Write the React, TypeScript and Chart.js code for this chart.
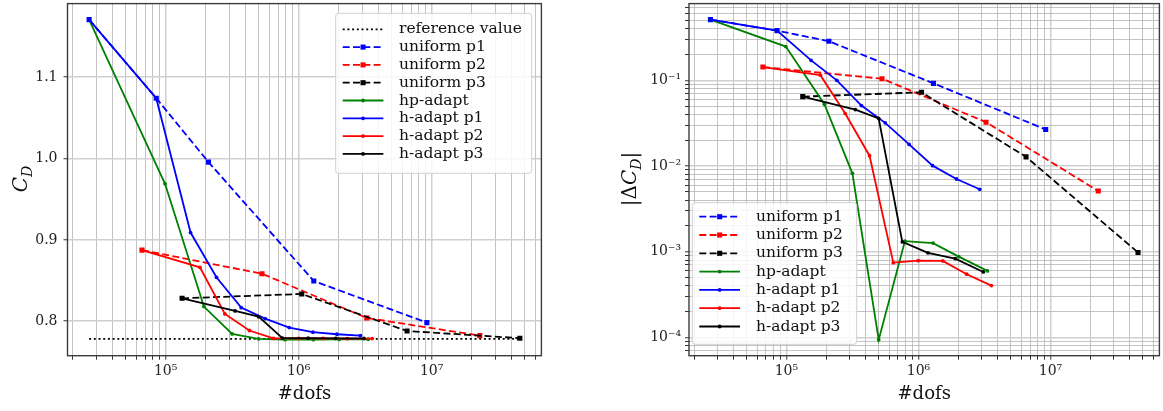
import React, { useEffect, useRef } from "react";
import { Chart, registerables } from "chart.js";

Chart.register(...registerables);

// ---- data -------------------------------------------------------------
const REF_CD = 0.7783;
const refDofs = [2.66e4, 4.6e7];
const refCd = [REF_CD, REF_CD];

const uniformP1Dofs = [2.66e4, 8.5e4, 2.1e5, 1.3e6, 9.2e6];
const uniformP1Cd = [1.1708, 1.0742, 0.9956, 0.8494, 0.7983];
const uniformP1Err = [0.512, 0.381, 0.286, 0.0923, 0.0267];

const uniformP2Dofs = [6.64e4, 5.3e5, 3.25e6, 2.3e7];
const uniformP2Cd = [0.8874, 0.8584, 0.804, 0.7823];
const uniformP2Err = [0.143, 0.1046, 0.0325, 0.00511];

const uniformP3Dofs = [1.33e5, 1.055e6, 6.53e6, 4.6e7];
const uniformP3Cd = [0.8282, 0.8335, 0.788, 0.7791];
const uniformP3Err = [0.0646, 0.0725, 0.0128, 0.00098];

const hpAdaptDofs = [2.66e4, 9.9e4, 1.94e5, 3.16e5, 5.0e5, 7.9e5, 1.29e6, 2.02e6, 3.33e6];
const hpAdaptCd = [1.1708, 0.969, 0.818, 0.7844, 0.7784, 0.7773, 0.7773, 0.7776, 0.7778];
const hpAdaptErr = [0.512, 0.248, 0.0526, 0.00822, 9.4e-5, 0.00133, 0.00126, 0.000875, 0.000597];

const hAdaptP1Dofs = [2.66e4, 8.5e4, 1.54e5, 2.41e5, 3.7e5, 5.6e5, 8.5e5, 1.28e6, 1.94e6, 2.91e6];
const hAdaptP1Cd = [1.1708, 1.0742, 0.909, 0.854, 0.8167, 0.8032, 0.7922, 0.7865, 0.784, 0.7823];
const hAdaptP1Err = [0.512, 0.381, 0.171, 0.1, 0.0508, 0.0319, 0.01786, 0.0101, 0.00706, 0.00535];

const hAdaptP2Dofs = [6.64e4, 1.81e5, 2.79e5, 4.26e5, 6.45e5, 9.97e5, 1.53e6, 2.32e6, 3.57e6];
const hAdaptP2Cd = [0.8874, 0.8663, 0.809, 0.7886, 0.7789, 0.7789, 0.7789, 0.7787, 0.7786];
const hAdaptP2Err = [0.143, 0.115, 0.041, 0.0132, 0.000745, 0.000786, 0.00078, 0.000546, 0.000402];

const hAdaptP3Dofs = [1.33e5, 3.33e5, 5.0e5, 7.55e5, 1.18e6, 1.9e6, 3.1e6];
const hAdaptP3Cd = [0.8282, 0.8126, 0.8056, 0.7793, 0.7791, 0.779, 0.7788];
const hAdaptP3Err = [0.0646, 0.0456, 0.0359, 0.0013, 0.00097, 0.00083, 0.00058];

const cdTickValues = [0.8, 0.9, 1.0, 1.1];

// axis limits
const X_MIN = 1.83e4;
const X_MAX = 6.68e7;
const CD_MIN = 0.7576;
const CD_MAX = 1.1905;
const ERR_MIN = 6.11e-5;
const ERR_MAX = 0.787;

// ---- styling ----------------------------------------------------------
const FONT = "DejaVu Serif";
const BLUE = "#0000ff";
const RED = "#ff0000";
const BLACK = "#000000";
const GREEN = "#008000";
const DASH = [7, 3.3];

type Style = { color: string; dash: number[]; marker: string; r: number };

const series: { label: string; dofs: number[]; cd: number[]; err: number[]; st: Style }[] = [
  { label: "uniform p1", dofs: uniformP1Dofs, cd: uniformP1Cd, err: uniformP1Err, st: { color: BLUE, dash: DASH, marker: "rect", r: 3.6 } },
  { label: "uniform p2", dofs: uniformP2Dofs, cd: uniformP2Cd, err: uniformP2Err, st: { color: RED, dash: DASH, marker: "rect", r: 3.6 } },
  { label: "uniform p3", dofs: uniformP3Dofs, cd: uniformP3Cd, err: uniformP3Err, st: { color: BLACK, dash: DASH, marker: "rect", r: 3.6 } },
  { label: "hp-adapt", dofs: hpAdaptDofs, cd: hpAdaptCd, err: hpAdaptErr, st: { color: GREEN, dash: [], marker: "circle", r: 1.9 } },
  { label: "h-adapt p1", dofs: hAdaptP1Dofs, cd: hAdaptP1Cd, err: hAdaptP1Err, st: { color: BLUE, dash: [], marker: "circle", r: 1.9 } },
  { label: "h-adapt p2", dofs: hAdaptP2Dofs, cd: hAdaptP2Cd, err: hAdaptP2Err, st: { color: RED, dash: [], marker: "circle", r: 1.9 } },
  { label: "h-adapt p3", dofs: hAdaptP3Dofs, cd: hAdaptP3Cd, err: hAdaptP3Err, st: { color: BLACK, dash: [], marker: "circle", r: 1.9 } },
];

const SUP: Record<string, string> = {
  "0": "⁰", "1": "¹", "2": "²", "3": "³", "4": "⁴",
  "5": "⁵", "6": "⁶", "7": "⁷", "8": "⁸", "9": "⁹", "-": "⁻",
};

const isPow10 = (v: number) => {
  const l = Math.log10(v);
  return Math.abs(l - Math.round(l)) < 1e-6;
};

const pow10Label = (v: number) =>
  isPow10(v)
    ? "10" + String(Math.round(Math.log10(v))).split("").map((c) => SUP[c]).join("")
    : "";

// decade ticks 1..9 x 10^e that fall within [lo, hi]
function logTicks(lo: number, hi: number) {
  const out: number[] = [];
  for (let e = Math.floor(Math.log10(lo)); e <= Math.ceil(Math.log10(hi)); e++) {
    for (let m = 1; m < 10; m++) {
      const v = m * Math.pow(10, e);
      if (v >= lo && v <= hi) out.push(v);
    }
  }
  return out;
}

const X_TICKS = logTicks(X_MIN, X_MAX);
const ERR_TICKS = logTicks(ERR_MIN, ERR_MAX);

const gridColor = (ctx: any) =>
  ctx.tick && isPow10(ctx.tick.value) ? "#cfcfcf" : "#b4b4b4";
const gridWidth = (ctx: any) => (ctx.tick && isPow10(ctx.tick.value) ? 1.5 : 0.8);

function makeDataset(label: string, xs: number[], ys: number[], st: Style, idx: number) {
  return {
    label,
    data: xs.map((x, i) => ({ x, y: ys[i] })),
    showLine: true,
    borderColor: st.color,
    backgroundColor: st.color,
    borderWidth: 1.8,
    borderDash: st.dash,
    pointStyle: st.marker,
    pointRadius: st.r,
    pointHoverRadius: st.r,
    pointBackgroundColor: st.color,
    pointBorderWidth: 0,
    fill: false,
    order: 100 - idx,
  };
}

// ---- plugins ----------------------------------------------------------
const framePlugin = {
  id: "frame",
  afterDatasetsDraw(chart: any) {
    const { ctx, chartArea } = chart;
    const { left, right, top, bottom } = chartArea;
    ctx.save();
    ctx.strokeStyle = "#3c3c3c";
    ctx.lineWidth = 1.4;
    ctx.strokeRect(left, top, right - left, bottom - top);
    ctx.restore();
  },
};

const insetLegendPlugin = {
  id: "insetLegend",
  afterDraw(chart: any, _args: any, opts: any) {
    if (!opts || !opts.box) return;
    const { ctx } = chart;
    const { box, rowY, rowGap, lineX, lineLen, textX, font } = opts;
    ctx.save();
    const r = 3;
    ctx.beginPath();
    ctx.moveTo(box.x + r, box.y);
    ctx.lineTo(box.x + box.w - r, box.y);
    ctx.arcTo(box.x + box.w, box.y, box.x + box.w, box.y + r, r);
    ctx.lineTo(box.x + box.w, box.y + box.h - r);
    ctx.arcTo(box.x + box.w, box.y + box.h, box.x + box.w - r, box.y + box.h, r);
    ctx.lineTo(box.x + r, box.y + box.h);
    ctx.arcTo(box.x, box.y + box.h, box.x, box.y + box.h - r, r);
    ctx.lineTo(box.x, box.y + r);
    ctx.arcTo(box.x, box.y, box.x + r, box.y, r);
    ctx.closePath();
    ctx.fillStyle = "rgba(255,255,255,0.85)";
    ctx.fill();
    ctx.strokeStyle = "#d0d0d0";
    ctx.lineWidth = 1;
    ctx.stroke();

    chart.data.datasets.forEach((ds: any, i: number) => {
      const y = rowY + i * rowGap;
      ctx.strokeStyle = ds.borderColor;
      ctx.lineWidth = ds.borderWidth;
      ctx.setLineDash(ds.borderDash || []);
      ctx.beginPath();
      ctx.moveTo(lineX, y);
      ctx.lineTo(lineX + lineLen, y);
      ctx.stroke();
      ctx.setLineDash([]);
      if (ds.pointRadius > 0) {
        const cx = lineX + lineLen / 2;
        ctx.fillStyle = ds.pointBackgroundColor;
        ctx.beginPath();
        if (ds.pointStyle === "rect") {
          const s = ds.pointRadius * Math.SQRT1_2;
          ctx.rect(cx - s, y - s, 2 * s, 2 * s);
        } else {
          ctx.arc(cx, y, ds.pointRadius, 0, Math.PI * 2);
        }
        ctx.fill();
      }
      ctx.fillStyle = "#111";
      ctx.font = font;
      ctx.textBaseline = "middle";
      ctx.textAlign = "left";
      ctx.fillText(ds.label, textX, y);
    });
    ctx.restore();
  },
};

// rotated y-axis title with italic symbols and subscripts
const mathTitlePlugin = {
  id: "mathTitle",
  afterDraw(chart: any, _args: any, opts: any) {
    if (!opts || !opts.parts) return;
    const { ctx } = chart;
    ctx.save();
    ctx.translate(opts.x, opts.y);
    ctx.rotate(-Math.PI / 2);
    ctx.fillStyle = "#111";
    ctx.textBaseline = "alphabetic";
    ctx.textAlign = "left";
    let total = 0;
    for (const p of opts.parts) {
      ctx.font = p.font;
      total += ctx.measureText(p.text).width + (p.kern || 0);
    }
    let cx = -total / 2;
    for (const p of opts.parts) {
      ctx.font = p.font;
      ctx.fillText(p.text, cx, p.dy);
      cx += ctx.measureText(p.text).width + (p.kern || 0);
    }
    ctx.restore();
  },
};

// ---- scales -----------------------------------------------------------
const tickFont = { family: FONT, size: 14 };

function dofsScale() {
  return {
    type: "logarithmic",
    min: X_MIN,
    max: X_MAX,
    afterBuildTicks: (s: any) => {
      s.ticks = X_TICKS.map((v) => ({ value: v }));
    },
    afterFit: (s: any) => {
      s.height = 55.3;
      s.paddingLeft = 0;
      s.paddingRight = 0;
    },
    ticks: {
      autoSkip: false,
      maxRotation: 0,
      minRotation: 0,
      padding: 3,
      color: "#222",
      font: tickFont,
      callback: (v: any) => pow10Label(Number(v)),
    },
    grid: {
      color: gridColor,
      lineWidth: gridWidth,
      tickColor: "#333",
      tickLength: 4,
      tickWidth: 1,
    },
    border: { display: false },
    title: {
      display: true,
      text: "#dofs",
      color: "#111",
      font: { family: FONT, size: 18 },
      padding: { top: 0, bottom: 6 },
    },
  };
}

function makeChartConfig(kind: "cd" | "err") {
  const datasets: any[] = [];
  if (kind === "cd") {
    datasets.push({
      ...makeDataset("reference value", refDofs, refCd, { color: BLACK, dash: [2, 2.7], marker: "circle", r: 0 }, 0),
    });
  }
  series.forEach((s, i) => {
    datasets.push(makeDataset(s.label, s.dofs, kind === "cd" ? s.cd : s.err, s.st, i + 1));
  });

  const yScale =
    kind === "cd"
      ? {
          type: "linear",
          min: CD_MIN,
          max: CD_MAX,
          afterBuildTicks: (s: any) => {
            s.ticks = cdTickValues.map((v) => ({ value: v }));
          },
          afterFit: (s: any) => {
            s.width = 67.5;
            s.paddingTop = 0;
            s.paddingBottom = 0;
          },
          ticks: {
            autoSkip: false,
            padding: 6,
            color: "#222",
            font: tickFont,
            callback: (v: any) => Number(v).toFixed(1),
          },
          grid: { color: "#cfcfcf", lineWidth: 1.5, tickColor: "#333", tickLength: 4, tickWidth: 1 },
          border: { display: false },
        }
      : {
          type: "logarithmic",
          min: ERR_MIN,
          max: ERR_MAX,
          afterBuildTicks: (s: any) => {
            s.ticks = ERR_TICKS.map((v) => ({ value: v }));
          },
          afterFit: (s: any) => {
            s.width = 109;
            s.paddingTop = 0;
            s.paddingBottom = 0;
          },
          ticks: {
            autoSkip: false,
            padding: 4,
            color: "#222",
            font: tickFont,
            callback: (v: any) => pow10Label(Number(v)),
          },
          grid: { color: gridColor, lineWidth: gridWidth, tickColor: "#333", tickLength: 4, tickWidth: 1 },
          border: { display: false },
        };

  const legendOpts =
    kind === "cd"
      ? {
          box: { x: 335.7, y: 13.3, w: 196, h: 160 },
          rowY: 29.3,
          rowGap: 17.8,
          lineX: 342.7,
          lineLen: 40.7,
          textX: 399,
          font: `15.5px "${FONT}"`,
        }
      : {
          box: { x: 112.3, y: 202.7, w: 164.4, h: 141.6 },
          rowY: 216.7,
          rowGap: 18.3,
          lineX: 119.3,
          lineLen: 40.7,
          textX: 176,
          font: `15.5px "${FONT}"`,
        };

  const big = `20px "${FONT}"`;
  const bigIt = `italic 20px "${FONT}"`;
  const subIt = `italic 14px "${FONT}"`;
  const titleOpts =
    kind === "cd"
      ? {
          x: 20,
          y: 179,
          parts: [
            { text: "C", font: bigIt, dy: 7.3, kern: 0 },
            { text: "D", font: subIt, dy: 11.5 },
          ],
        }
      : {
          x: 49,
          y: 179,
          parts: [
            { text: "|", font: big, dy: 7.3 },
            { text: "Δ", font: big, dy: 7.3 },
            { text: "C", font: bigIt, dy: 7.3 },
            { text: "D", font: subIt, dy: 11.5 },
            { text: "|", font: big, dy: 7.3 },
          ],
        };

  return {
    type: "scatter",
    data: { datasets },
    options: {
      responsive: false,
      animation: false,
      events: [],
      layout: { padding: { left: 0, right: kind === "cd" ? 3.5 : 0, top: 3, bottom: 0 } },
      plugins: {
        legend: { display: false },
        tooltip: { enabled: false },
        insetLegend: legendOpts,
        mathTitle: titleOpts,
      },
      scales: {
        x: dofsScale(),
        y: yScale,
      },
    },
    plugins: [framePlugin, insetLegendPlugin, mathTitlePlugin],
  };
}

function ConvergencePanel({ kind, left, width }: { kind: "cd" | "err"; left: number; width: number }) {
  const ref = useRef<HTMLCanvasElement | null>(null);
  useEffect(() => {
    if (!ref.current) return;
    const chart = new Chart(ref.current, makeChartConfig(kind) as any);
    return () => chart.destroy();
  }, [kind]);
  return (
    <canvas
      ref={ref}
      width={width}
      height={411}
      style={{ position: "absolute", left, top: 0, width, height: 411, display: "block" }}
    />
  );
}

export default function App() {
  return (
    <div style={{ position: "absolute", left: 0, top: 0, width: 1163, height: 411, background: "#fff", overflow: "hidden" }}>
      <ConvergencePanel kind="cd" left={0} width={545} />
      <ConvergencePanel kind="err" left={580} width={583} />
    </div>
  );
}
